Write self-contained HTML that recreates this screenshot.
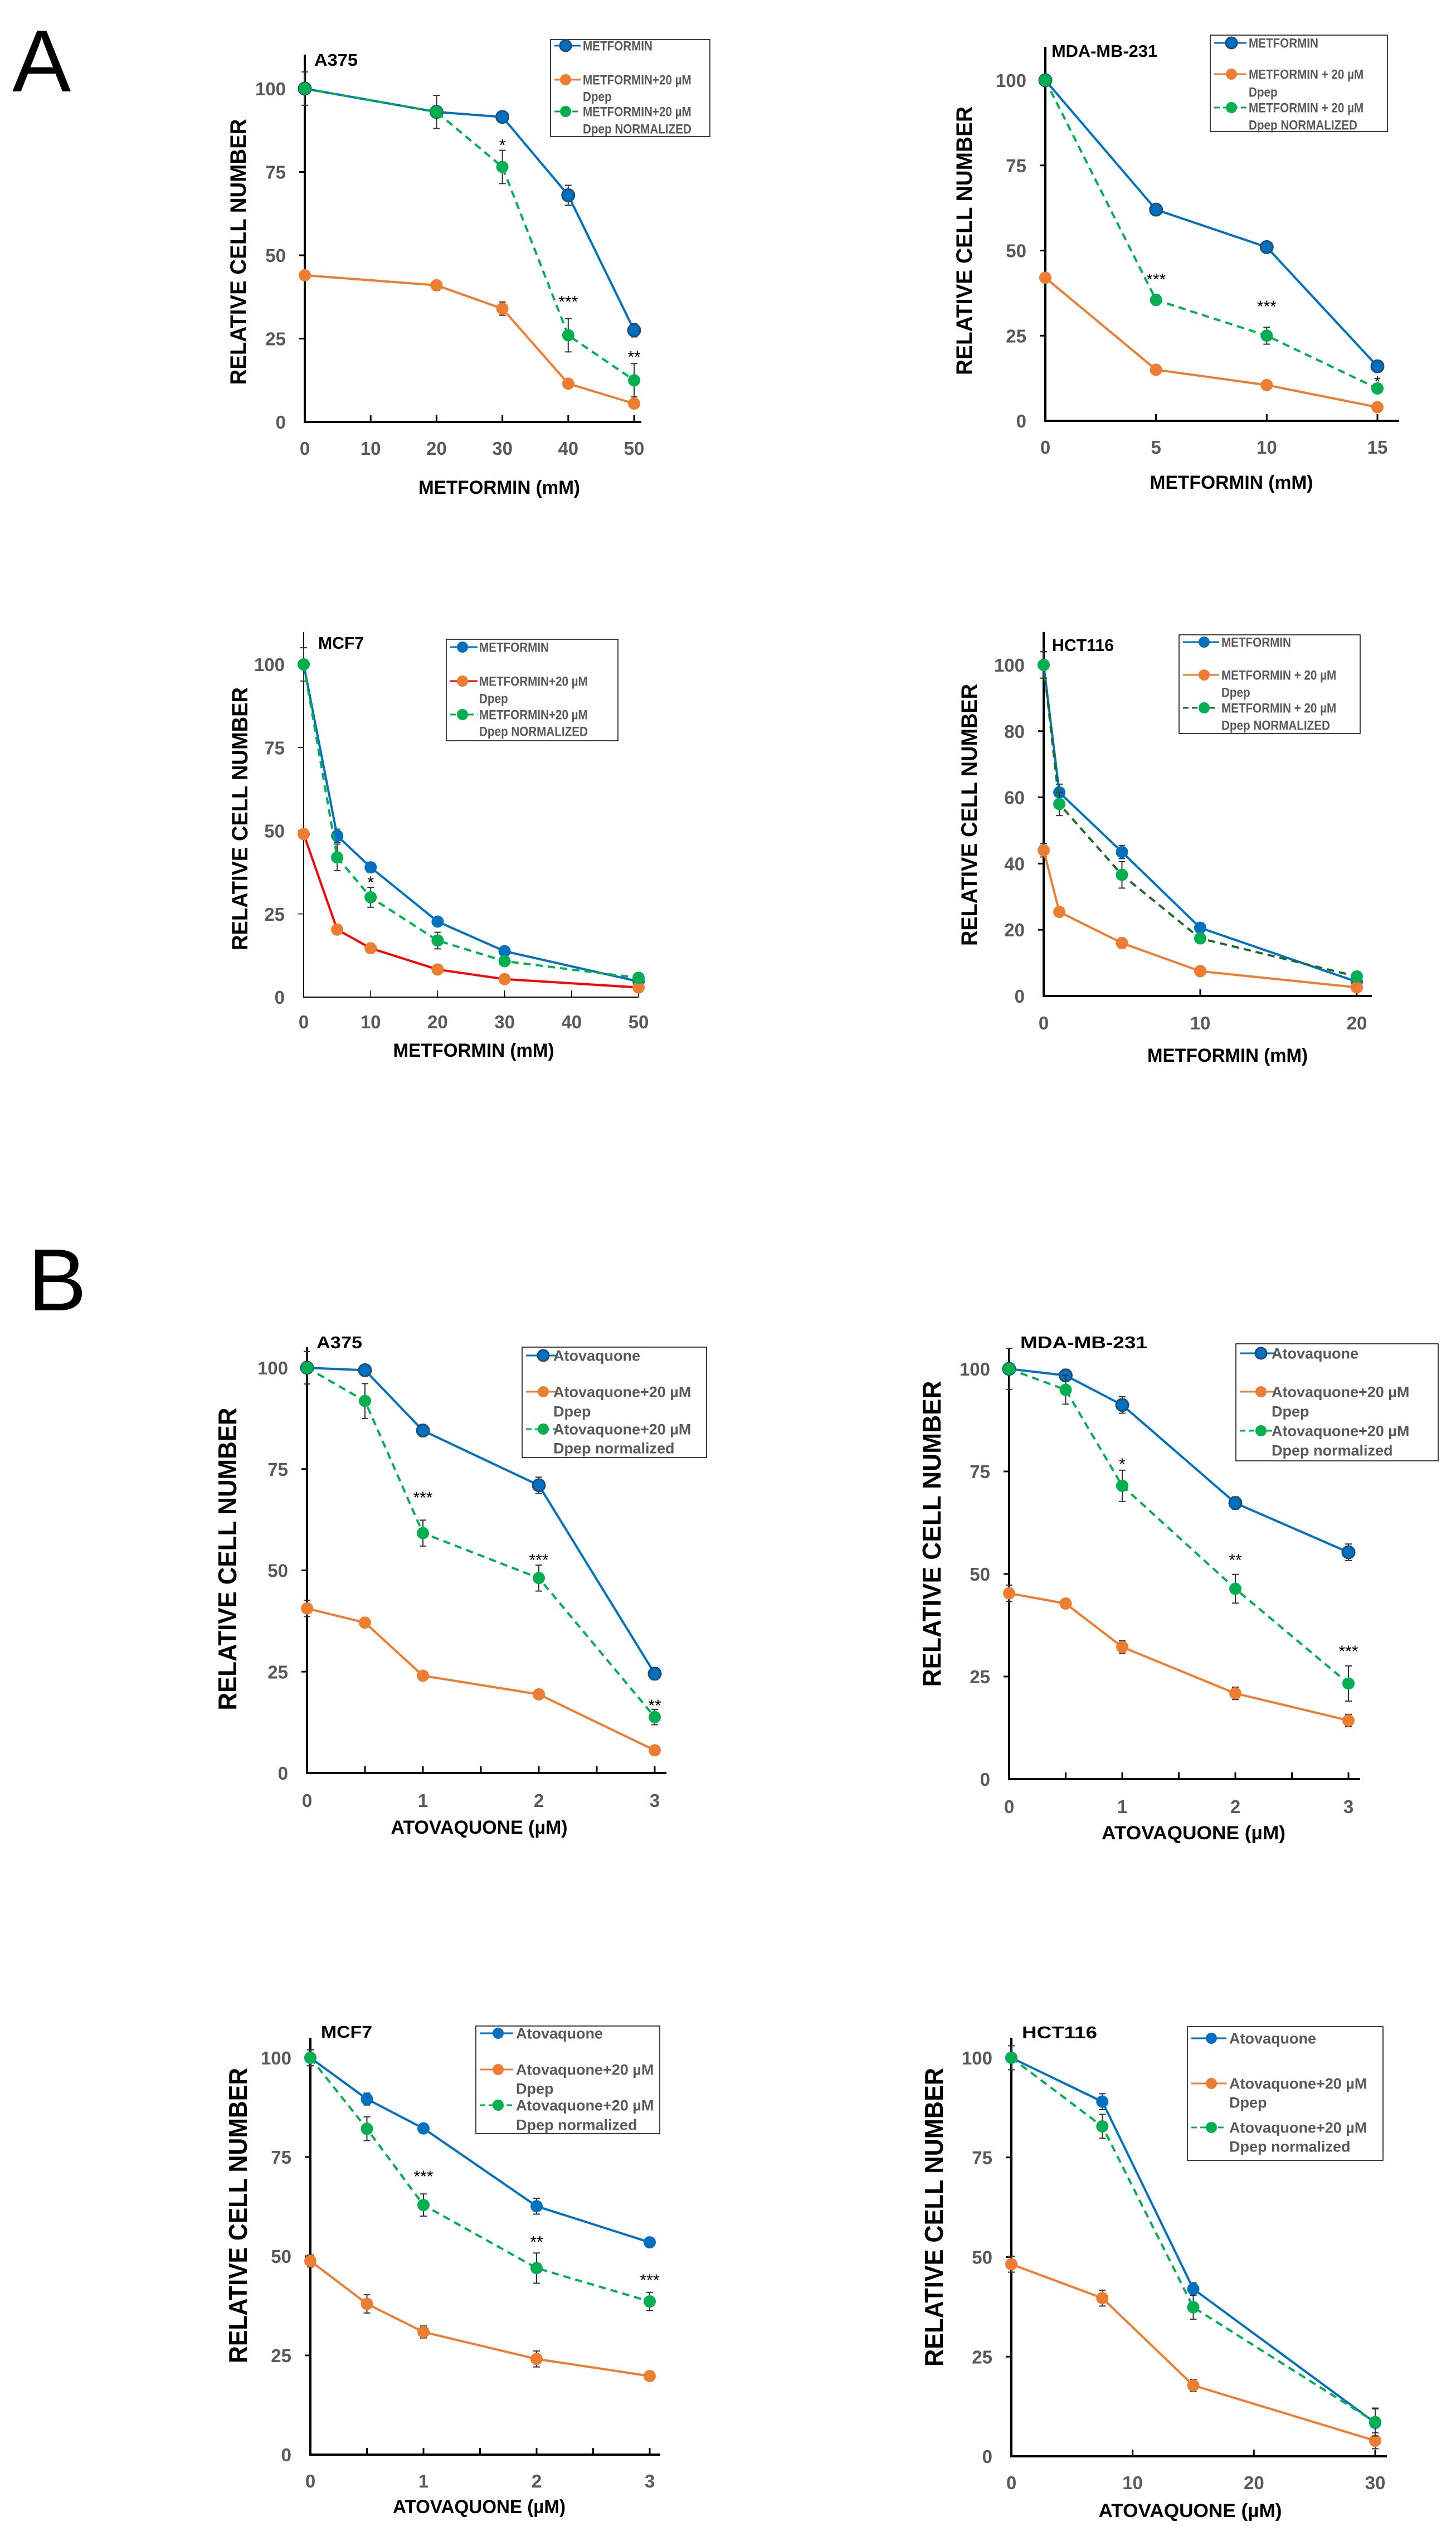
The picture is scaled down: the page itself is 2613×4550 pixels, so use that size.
<!DOCTYPE html>
<html><head><meta charset="utf-8">
<style>
html,body{margin:0;padding:0;background:#fff;}
svg{display:block;}
text{font-family:"Liberation Sans",sans-serif;font-weight:bold;}
</style></head>
<body>
<svg id="fig" xmlns="http://www.w3.org/2000/svg" width="2613" height="4550">
<rect width="2613" height="4550" fill="#fff"/>
<text x="22" y="164" font-size="158" font-weight="normal" style="font-weight:normal" fill="#000">A</text>
<text x="50" y="2351" font-size="158" font-weight="normal" style="font-weight:normal" fill="#000">B</text>
</svg>
<script>
// ---- data (doses and relative cell numbers) ----
const a1Doses=[0,20,30,40,50];
const a1Drug=[100,93,91.5,68,27.5];
const a1Dpep=[44,41,34,11.5,5.5];
const a1Norm=[100,93,76.5,26,12.5];
const a1ErrDrug=[0,0,1,3,2];
const a1ErrDpep=[0,1.5,2,1,0.8];
const a1ErrNorm=[5,5,5,5,5];
const a1Stars=["","","*","***","**"];
const a1StarY=[0,0,84,37,20.5];

const a2Doses=[0,5,10,15];
const a2Drug=[100,62,51,16];
const a2Dpep=[42,15,10.5,4];
const a2Norm=[100,35.5,25,9.5];
const a2ErrDrug=[0,0.5,0.5,0.5];
const a2ErrDpep=[0,0.5,0.5,0.5];
const a2ErrNorm=[0,1.5,2.5,1];
const a2Stars=["","***","***","*"];
const a2StarY=[0,42.5,34.5,12.4];

const a3Doses=[0,5,10,20,30,50];
const a3Drug=[100,48.5,39,22.7,13.8,4.7];
const a3Dpep=[49,20.3,14.7,8.3,5.4,2.9];
const a3Norm=[100,42,30,17,10.8,5.8];
const a3ErrDrug=[5,2,1.5,1,1,0];
const a3ErrDpep=[1,1.5,1,0.5,0.5,0.5];
const a3ErrNorm=[0,4,3,2.5,1,0.5];
const a3Stars=["","","*","","",""];
const a3StarY=[0,0,35.5,0,0,0];

const a4Doses=[0,1,5,10,20];
const a4Drug=[100,61.5,43.5,20.6,4.3];
const a4Dpep=[44,25.4,16,7.5,2.6];
const a4Norm=[100,58,36.6,17.4,5.9];
const a4ErrDrug=[4,2.5,2,1.5,1];
const a4ErrDpep=[2,1,1.5,0.5,0.5];
const a4ErrNorm=[4,3.5,4,1.5,1];
const a4Stars=["","","","",""];
const a4StarY=[0,0,0,0,0];

const b1Doses=[0,0.5,1,2,3];
const b1Drug=[100,99.4,84.5,71,24.5];
const b1Dpep=[40.6,37.1,24,19.4,5.6];
const b1Norm=[100,91.8,59.2,48.1,13.8];
const b1ErrDrug=[4,1,1.5,2,1.5];
const b1ErrDpep=[2,1.2,0.5,0.5,0.5];
const b1ErrNorm=[4,4.3,3.2,3.2,1.9];
const b1Stars=["","","***","***","**"];
const b1StarY=[0,0,68.8,53.4,17.5];

const b2Doses=[0,0.5,1,2,3];
const b2Drug=[100,98.4,91.2,67.3,55.3];
const b2Dpep=[45.3,42.8,32.2,20.9,14.3];
const b2Norm=[100,94.9,71.5,46.4,23.3];
const b2ErrDrug=[5,1.5,2,1.5,2];
const b2ErrDpep=[2,1,1.5,1.5,1.5];
const b2ErrNorm=[1,3.5,3.8,3.5,4.3];
const b2Stars=["","","*","**","***"];
const b2StarY=[0,0,77.6,54.2,31.9];

const b3Doses=[0,0.5,1,2,3];
const b3Drug=[100,89.6,82.2,62.6,53.5];
const b3Dpep=[48.8,38,30.9,24.1,19.8];
const b3Norm=[100,82.1,62.9,47,38.6];
const b3ErrDrug=[2,1.5,1,2,1];
const b3ErrDpep=[1.5,2.3,1.5,2,1];
const b3ErrNorm=[2,3,2.8,3.8,2.3];
const b3Stars=["","","***","**","***"];
const b3StarY=[0,0,70.9,54.4,44.8];

const b4Doses=[0,7.5,15,30];
const b4Drug=[100,89,42,8.4];
const b4Dpep=[48.2,39.7,17.8,3.9];
const b4Norm=[100,82.8,37.4,8.6];
const b4ErrDrug=[3,2,1.5,3.5];
const b4ErrDpep=[2,2,1.5,2];
const b4ErrNorm=[3,3,3,3.5];
const b4Stars=["","","",""];
const b4StarY=[0,0,0,0];

// ---- rendering ----
const NS="http://www.w3.org/2000/svg";
const svg=document.getElementById('fig');
function mk(tag,attrs,parent){const e=document.createElementNS(NS,tag);for(const k in attrs)e.setAttribute(k,attrs[k]);(parent||svg).appendChild(e);return e;}

const BLUE="#0070C0",ORANGE="#ED7D31",GREEN="#00B050",GREY="#595959";

function panel(c){
  const g=mk('g',{});
  
  
  const sx=v=>c.x0+(v-c.xmin)/(c.xmax-c.xmin)*(c.x1-c.x0);
  const sy=v=>c.y0-(v/c.ymax)*(c.y0-c.y100);
  const aw=c.axisW||4;
  // axes
  const ya=mk('line',{x1:c.x0,y1:c.axTop,x2:c.x0,y2:c.y0+aw/2,stroke:'#000','stroke-width':aw},g);
  
  
  const xa=mk('line',{x1:c.x0-aw/2,y1:c.y0,x2:c.xEnd,y2:c.y0,stroke:'#000','stroke-width':aw},g);
  
  
  c.yTicks.forEach(v=>{
    const y=sy(v);
    if(v>0)mk('line',{x1:c.x0-10,y1:y,x2:c.x0,y2:y,stroke:'#000','stroke-width':aw*0.75},g);
    const t=mk('text',{x:c.x0-34,y:y+12,'text-anchor':'end','font-size':33,fill:GREY},g);
    t.textContent=v;
    
    
  });
  c.xMinor.forEach(v=>{const x=sx(v);mk('line',{x1:x,y1:c.y0,x2:x,y2:c.y0-12,stroke:'#000','stroke-width':aw*0.75},g);});
  c.xTicks.forEach(v=>{
    const x=sx(v);
    const t=mk('text',{x:x,y:c.y0+c.xLabOff,'text-anchor':'middle','font-size':33,fill:GREY},g);
    t.textContent=v;
    
    
  });
  // titles
  const xt=mk('text',{x:c.xtX,y:c.xtY,'text-anchor':'middle','font-size':34,fill:'#000',textLength:c.xtW,lengthAdjust:'spacingAndGlyphs'},g);
  xt.textContent=c.xTitle;
  
  
  const yt=mk('text',{x:0,y:0,'text-anchor':'middle','font-size':c.ytF,fill:'#000',textLength:c.ytW,lengthAdjust:'spacingAndGlyphs',transform:`translate(${c.ytX},${c.ytY}) rotate(-90)`},g);
  yt.textContent="RELATIVE CELL NUMBER";
  
  
  const ct=mk('text',{x:c.tX,y:c.tY,'font-size':31,fill:'#000',textLength:c.tW,lengthAdjust:'spacingAndGlyphs'},g);
  ct.textContent=c.cell;
  
  
  // series
  const series=[
    {v:c.drug,e:c.eDrug,col:BLUE,line:BLUE,dash:null,mstroke:c.darkBlue?'#1F4E79':BLUE,name:'drug-series'},
    {v:c.dpep,e:c.eDpep,col:ORANGE,line:c.dpepLine||ORANGE,dash:null,mstroke:ORANGE,name:'dpep-series'},
    {v:c.norm,e:c.eNorm,col:GREEN,line:c.normLine||GREEN,dash:'13 9',mstroke:GREEN,name:'normalized-series'}
  ];
  series.forEach(s=>{
    const sg=mk('g',{},g);
    
    
    s.v.forEach((v,i)=>{
      if(!s.e[i])return;
      const x=sx(c.doses[i]);
      const eb=mk('path',{d:`M${x},${sy(v+s.e[i])}V${sy(v-s.e[i])}M${x-6},${sy(v+s.e[i])}h12M${x-6},${sy(v-s.e[i])}h12`,stroke:'#333','stroke-width':2,fill:'none'},sg);
      
      
    });
    const pts=s.v.map((v,i)=>sx(c.doses[i])+','+sy(v)).join(' ');
    const pl=mk('polyline',{points:pts,fill:'none',stroke:s.line,'stroke-width':4},sg);
    if(s.dash)pl.setAttribute('stroke-dasharray',s.dash);
    
    
    s.v.forEach((v,i)=>{
      const m=mk('circle',{cx:sx(c.doses[i]),cy:sy(v),r:11,fill:s.col,stroke:s.mstroke,'stroke-width':s.mstroke===s.col?0:3},sg);
      
      
    });
  });
  c.stars.forEach((s,i)=>{
    if(!s)return;
    const t=mk('text',{x:sx(c.doses[i]),y:sy(c.starY[i])+16,'text-anchor':'middle','font-size':30,fill:'#000',style:'font-weight:normal'},g);
    t.textContent=s;
    
    
  });
  // legend
  const L=c.leg;
  const lg=mk('g',{},g);
  
  
  mk('rect',{x:L.x,y:L.y,width:L.w,height:L.h,fill:'#fff',stroke:'#000','stroke-width':1.5},lg);
  const mx=L.x+L.mk, lx0=L.x+7, lx1=mx+27, tx=mx+L.tx;
  const rows=[[0,BLUE,BLUE,null,c.darkBlue?'#1F4E79':BLUE],[1,ORANGE,c.dpepLine||ORANGE,null,ORANGE],[3,GREEN,c.normLine||GREEN,'10 6',GREEN]];
  rows.forEach(r=>{
    const y=L.y+L.rows[r[0]];
    const ln=mk('line',{x1:lx0,y1:y,x2:lx1,y2:y,stroke:r[2],'stroke-width':3},lg);
    if(r[3])ln.setAttribute('stroke-dasharray',r[3]);
    const m=mk('circle',{cx:mx,cy:y,r:10,fill:r[1],stroke:r[4],'stroke-width':r[4]===r[1]?0:3},lg);
    
    
  });
  L.labels.forEach((s,i)=>{
    const t=mk('text',{x:0,y:0,'font-size':L.fs,fill:GREY,transform:`translate(${tx},${L.y+L.rows[i]+L.fs*0.36}) scale(${L.sc},1)`},lg);
    t.textContent=s;
    
    
  });
}

const METL=(sep,sep2)=>["METFORMIN","METFORMIN"+sep+"20 µM","Dpep","METFORMIN"+(sep2||sep)+"20 µM","Dpep NORMALIZED"];
const ATL=["Atovaquone","Atovaquone+20 µM","Dpep","Atovaquone+20 µM","Dpep normalized"];

panel({name:'panel-a-a375',cell:'A375',doses:a1Doses,drug:a1Drug,dpep:a1Dpep,norm:a1Norm,eDrug:a1ErrDrug,eDpep:a1ErrDpep,eNorm:a1ErrNorm,stars:a1Stars,starY:a1StarY,
  xmin:0,xmax:50,x0:547,x1:1138,y0:757,y100:159,ymax:100,axTop:98,xEnd:1151,
  yTicks:[0,25,50,75,100],xTicks:[0,10,20,30,40,50],xMinor:[10,20,30,40,50],xLabOff:59,
  xTitle:'METFORMIN (mM)',xtX:896,xtY:886,xtW:290,ytX:441,ytY:452,ytF:40,ytW:477,tX:564,tY:118,tW:78,darkBlue:true,
  leg:{x:988,y:71,w:286,h:174,mk:27,tx:31,fs:24,sc:0.86,rows:[11,72,102,129,160],labels:METL('+')}});

panel({name:'panel-a-mda-mb-231',cell:'MDA-MB-231',doses:a2Doses,drug:a2Drug,dpep:a2Dpep,norm:a2Norm,eDrug:a2ErrDrug,eDpep:a2ErrDpep,eNorm:a2ErrNorm,stars:a2Stars,starY:a2StarY,
  xmin:0,xmax:15,x0:1876,x1:2472,y0:755,y100:144,ymax:100,axTop:84,xEnd:2511,
  yTicks:[0,25,50,75,100],xTicks:[0,5,10,15],xMinor:[5,10,15],xLabOff:59,
  xTitle:'METFORMIN (mM)',xtX:2210,xtY:877,xtW:293,ytX:1744,ytY:432,ytF:40,ytW:482,tX:1887,tY:102,tW:190,darkBlue:true,
  leg:{x:2172,y:63,w:318,h:173,mk:38,tx:31,fs:24,sc:0.86,rows:[14,70,102,130,161],labels:METL(' + ')}});

panel({name:'panel-a-mcf7',cell:'MCF7',doses:a3Doses,drug:a3Drug,dpep:a3Dpep,norm:a3Norm,eDrug:a3ErrDrug,eDpep:a3ErrDpep,eNorm:a3ErrNorm,stars:a3Stars,starY:a3StarY,
  xmin:0,xmax:50,x0:545,x1:1146,y0:1789,y100:1192,ymax:100,axTop:1134,xEnd:1146,axisW:2,dpepLine:'#FF0000',
  yTicks:[0,25,50,75,100],xTicks:[0,10,20,30,40,50],xMinor:[10,20,30,40,50],xLabOff:56,
  xTitle:'METFORMIN (mM)',xtX:850,xtY:1896,xtW:289,ytX:444,ytY:1469,ytF:40,ytW:472,tX:571,tY:1164,tW:82,
  leg:{x:801,y:1147,w:308,h:182,mk:29,tx:30,fs:24,sc:0.86,rows:[14,75,106,135,165],labels:METL('+20  µM'.slice(0,0)+'+','+').map((s,i)=>i==1?'METFORMIN+20  µM':s)}});

panel({name:'panel-a-hct116',cell:'HCT116',doses:a4Doses,drug:a4Drug,dpep:a4Dpep,norm:a4Norm,eDrug:a4ErrDrug,eDpep:a4ErrDpep,eNorm:a4ErrNorm,stars:a4Stars,starY:a4StarY,
  xmin:0,xmax:20,x0:1873,x1:2435,y0:1787,y100:1193,ymax:100,axTop:1134,xEnd:2462,normLine:'#1E6B2A',
  yTicks:[0,20,40,60,80,100],xTicks:[0,10,20],xMinor:[10,20],xLabOff:60,
  xTitle:'METFORMIN (mM)',xtX:2203,xtY:1905,xtW:288,ytX:1753,ytY:1462,ytF:40,ytW:470,tX:1888,tY:1168,tW:111,
  leg:{x:2116,y:1139,w:325,h:177,mk:45,tx:31,fs:24,sc:0.86,rows:[13,72,103,131,162],labels:METL(' + ')}});

panel({name:'panel-b-a375',cell:'A375',doses:b1Doses,drug:b1Drug,dpep:b1Dpep,norm:b1Norm,eDrug:b1ErrDrug,eDpep:b1ErrDpep,eNorm:b1ErrNorm,stars:b1Stars,starY:b1StarY,
  xmin:0,xmax:3,x0:551,x1:1175,y0:3181,y100:2454,ymax:100,axTop:2417,xEnd:1196,darkBlue:true,
  yTicks:[0,25,50,75,100],xTicks:[0,1,2,3],xMinor:[0.5,1,1.5,2,2.5,3],xLabOff:61,
  xTitle:'ATOVAQUONE (µM)',xtX:860,xtY:3290,xtW:317,ytX:424,ytY:2797,ytF:46,ytW:543,tX:568,tY:2419,tW:82,
  leg:{x:937,y:2417,w:331,h:198,mk:38,tx:18,fs:27,sc:1,rows:[15,80,115,147,181],labels:ATL}});

panel({name:'panel-b-mda-mb-231',cell:'MDA-MB-231',doses:b2Doses,drug:b2Drug,dpep:b2Dpep,norm:b2Norm,eDrug:b2ErrDrug,eDpep:b2ErrDpep,eNorm:b2ErrNorm,stars:b2Stars,starY:b2StarY,
  xmin:0,xmax:3,x0:1811,x1:2420,y0:3192,y100:2456,ymax:100,axTop:2419,xEnd:2441,darkBlue:true,
  yTicks:[0,25,50,75,100],xTicks:[0,1,2,3],xMinor:[0.5,1,1.5,2,2.5,3],xLabOff:61,
  xTitle:'ATOVAQUONE (µM)',xtX:2142,xtY:3300,xtW:330,ytX:1688,ytY:2752,ytF:46,ytW:549,tX:1831,tY:2419,tW:228,
  leg:{x:2218,y:2411,w:363,h:210,mk:45,tx:19,fs:27,sc:1,rows:[17,86,121,156,191],labels:ATL}});

panel({name:'panel-b-mcf7',cell:'MCF7',doses:b3Doses,drug:b3Drug,dpep:b3Dpep,norm:b3Norm,eDrug:b3ErrDrug,eDpep:b3ErrDpep,eNorm:b3ErrNorm,stars:b3Stars,starY:b3StarY,
  xmin:0,xmax:3,x0:557,x1:1166,y0:4404,y100:3692,ymax:100,axTop:3656,xEnd:1185,
  yTicks:[0,25,50,75,100],xTicks:[0,1,2,3],xMinor:[0.5,1,1.5,2,2.5,3],xLabOff:59,
  xTitle:'ATOVAQUONE (µM)',xtX:860,xtY:4509,xtW:310,ytX:443,ytY:3975,ytF:46,ytW:530,tX:576,tY:3656,tW:92,
  leg:{x:854,y:3635,w:330,h:193,mk:40,tx:32,fs:27,sc:1,rows:[13,78,112,142,177],labels:ATL}});

panel({name:'panel-b-hct116',cell:'HCT116',doses:b4Doses,drug:b4Drug,dpep:b4Dpep,norm:b4Norm,eDrug:b4ErrDrug,eDpep:b4ErrDpep,eNorm:b4ErrNorm,stars:b4Stars,starY:b4StarY,
  xmin:0,xmax:30,x0:1815,x1:2468,y0:4407,y100:3692,ymax:100,axTop:3656,xEnd:2489,
  yTicks:[0,25,50,75,100],xTicks:[0,10,20,30],xMinor:[10,20,30],xLabOff:59,
  xTitle:'ATOVAQUONE (µM)',xtX:2136,xtY:4516,xtW:329,ytX:1692,ytY:3978,ytF:46,ytW:536,tX:1834,tY:3657,tW:135,
  leg:{x:2131,y:3636,w:351,h:240,mk:43,tx:32,fs:27,sc:1,rows:[21,102,136,181,215],labels:ATL}});
</script>
</body></html>
